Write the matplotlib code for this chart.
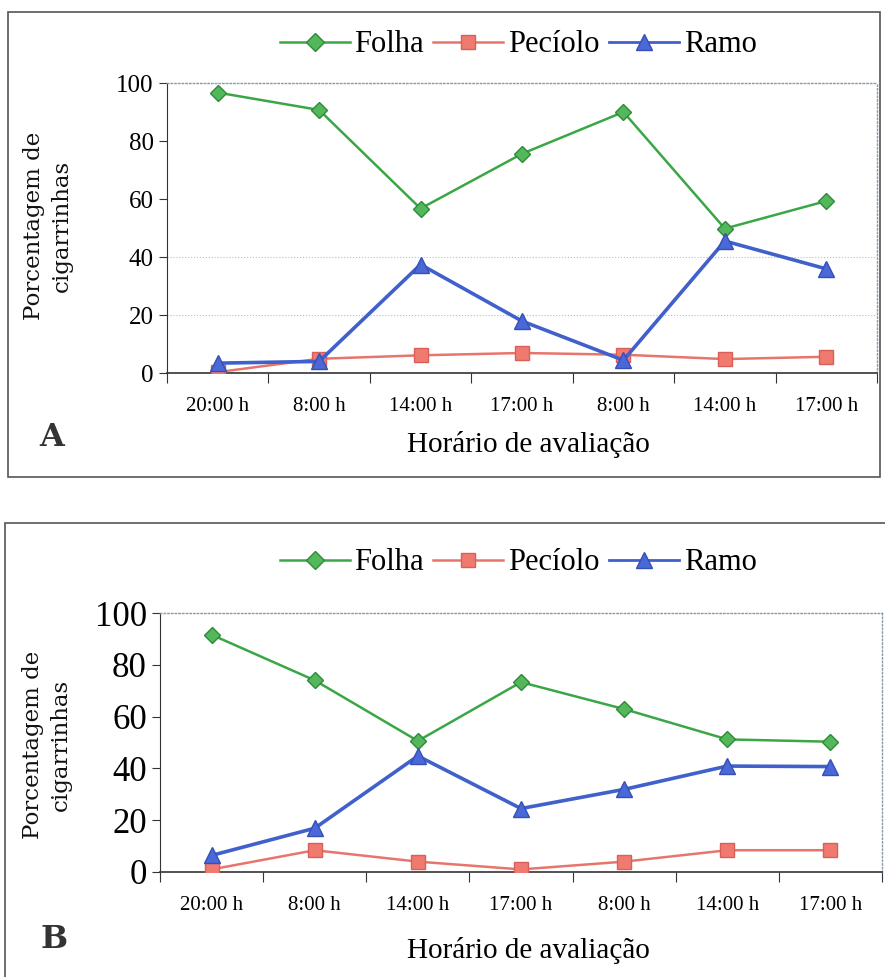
import numpy as np
import matplotlib.pyplot as plt
import matplotlib.patches as patches
from matplotlib.lines import Line2D

horarios = ["20:00 h", "8:00 h", "14:00 h", "17:00 h", "8:00 h", "14:00 h", "17:00 h"]

folha_a = [96.7, 90.7, 56.7, 75.6, 90.0, 49.8, 59.3]
peciolo_a = [0.3, 4.9, 6.1, 6.9, 6.3, 4.8, 5.6]
ramo_a = [3.4, 4.0, 37.4, 17.9, 4.4, 45.5, 35.9]

folha_b = [91.6, 74.0, 50.6, 73.3, 62.9, 51.2, 50.3]
peciolo_b = [1.0, 8.4, 4.0, 1.0, 4.0, 8.4, 8.4]
ramo_b = [6.4, 16.9, 44.8, 24.5, 31.9, 40.9, 40.7]

W, H = 885, 977
verde = "#3aa646"
vermelho = "#e8756c"
azul = "#4060cc"

fig = plt.figure(figsize=(8.85, 9.77), dpi=100)


def box(x0, y0, x1, y1):
    return [x0 / W, 1 - y1 / H, (x1 - x0) / W, (y1 - y0) / H]


# panel frames
for (x0, y0, x1, y1) in [(8, 12, 880, 477), (5, 523, 890, 990)]:
    fig.add_artist(patches.Rectangle((x0 / W, 1 - y1 / H), (x1 - x0) / W,
                                     (y1 - y0) / H, transform=fig.transFigure,
                                     fill=False, edgecolor="#555555", lw=1.2))


def painel(rect, folha, peciolo, ramo, ytick_fs, grid_vals, letra, letra_xy,
           leg_y, xlab_y, ylab_x, ylab_y):
    ax = fig.add_axes(rect)
    x = np.arange(len(horarios))
    ax.plot(x, folha, color=verde, lw=1.8, marker="D", ms=8.5,
            mfc="#52b85a", mec="#2f8a3a", zorder=3)
    ax.plot(x, peciolo, color=vermelho, lw=1.8, marker="s", ms=9.5,
            mfc="#f07a70", mec="#d96058", zorder=3)
    ax.plot(x, ramo, color=azul, lw=2.6, marker="^", ms=12,
            mfc="#4a68d8", mec="#3450b8", zorder=4)
    ax.set_xlim(-0.5, len(horarios) - 0.5)
    ax.set_ylim(0, 100)
    ax.set_yticks(np.arange(0, 101, 20))
    ax.set_xticks(np.arange(-0.5, len(horarios), 1.0))
    ax.set_xticklabels([])
    ax.set_xticks(x, minor=True)
    ax.set_xticklabels(horarios, minor=True, fontsize=15,
                       family="Liberation Serif")
    ax.tick_params(axis="x", which="minor", length=0, pad=17)
    ax.tick_params(axis="x", which="major", length=7, direction="out",
                   color="#333333")
    ax.tick_params(axis="y", length=6, direction="out", labelsize=ytick_fs,
                   color="#333333")
    for lab in ax.get_yticklabels():
        lab.set_family("Liberation Serif")
    for g in grid_vals:
        ax.axhline(g, color="#bbbbbb", lw=0.8, ls=":", zorder=1)
    for s in ["top", "right"]:
        ax.spines[s].set_linestyle(":")
        ax.spines[s].set_color("#8899aa")
        ax.spines[s].set_linewidth(1.0)
    ax.spines["left"].set_color("#333333")
    ax.spines["bottom"].set_color("#333333")
    ax.spines["bottom"].set_linewidth(1.2)

    handles = [
        Line2D([], [], color=verde, lw=1.8, marker="D", ms=9, mfc="#52b85a", mec="#2f8a3a"),
        Line2D([], [], color=vermelho, lw=1.8, marker="s", ms=9.5, mfc="#f07a70", mec="#d96058"),
        Line2D([], [], color=azul, lw=2.0, marker="^", ms=12, mfc="#4a68d8", mec="#3450b8"),
    ]
    fig.legend(handles, ["Folha", "Pecíolo", "Ramo"], loc="center",
               bbox_to_anchor=(518 / W, 1 - leg_y / H), ncol=3, frameon=False,
               prop={"family": "Liberation Serif", "size": 22},
               handlelength=2.3, handletextpad=0.15, columnspacing=0.3)
    fig.text(528 / W, 1 - xlab_y / H, "Horário de avaliação", ha="center",
             va="center", fontsize=21, family="Liberation Serif")
    fig.text(ylab_x / W, 1 - ylab_y / H, "Porcentagem de\ncigarrinhas",
             rotation=90, ha="center", va="center", fontsize=16.5,
             family="DejaVu Serif", linespacing=1.3, color="#111111")
    fig.text(letra_xy[0] / W, 1 - letra_xy[1] / H, letra, ha="center",
             va="center", fontsize=23, fontweight="bold", family="DejaVu Serif",
             color="#333333")
    return ax


painel(box(167, 83, 877, 373), folha_a, peciolo_a, ramo_a, 18, [20, 40],
       "A", (52, 437), 45, 445, 48, 226)
painel(box(160, 613, 882, 872), folha_b, peciolo_b, ramo_b, 25, [],
       "B", (54, 939), 563, 950, 47, 745)

fig.savefig("out.png", dpi=100)
